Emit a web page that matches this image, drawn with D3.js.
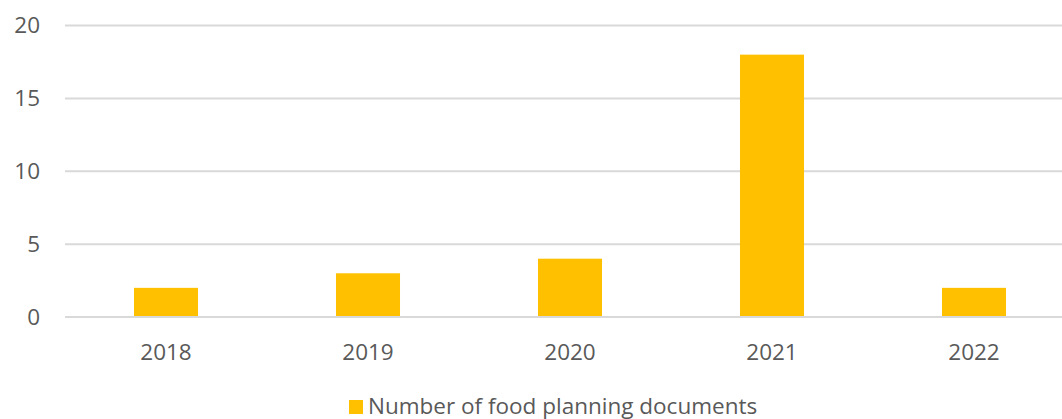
<!DOCTYPE html>
<html>
<head>
<meta charset="utf-8">
<script src="https://cdn.jsdelivr.net/npm/d3@7"></script>
<style>
	body { margin: 0; background: #fff; }
	svg { display: block; font-family: "Open Sans", "Noto Sans", sans-serif; }
	.axis text { fill: #595959; font-size: 22.5px; }
	.grid line { stroke: #d9d9d9; stroke-width: 2; }
	.bar { fill: #ffc000; }
</style>
</head>
<body>
<div id="chart"></div>
<script>
var years = ["2018", "2019", "2020", "2021", "2022"];
var documents = [2, 3, 4, 18, 2];
var yTicks = [0, 5, 10, 15, 20];
var seriesName = "Number of food planning documents";

var width = 1062,
	height = 419;

var svg = d3.select("#chart").append("svg")
	.attr("width", width)
	.attr("height", height);

var xScale = d3.scaleBand().domain(years).range([65, 1075])
	.paddingInner(0.683).paddingOuter(0.3415);
var yScale = d3.scaleLinear().domain([0, 20]).range([317, 25.5]);

// gridlines
svg.append("g")
	.attr("class", "grid")
	.selectAll("line")
	.data(yTicks)
	.enter()
	.append("line")
	.attr("x1", 65)
	.attr("x2", width)
	.attr("y1", function(d) { return yScale(d); })
	.attr("y2", function(d) { return yScale(d); });

// y labels
svg.append("g")
	.attr("class", "axis")
	.selectAll("text")
	.data(yTicks)
	.enter()
	.append("text")
	.attr("x", 40)
	.attr("y", function(d) { return yScale(d); })
	.attr("dy", "0.35em")
	.attr("text-anchor", "end")
	.text(function(d) { return d; });

// bars
svg.selectAll(".bar")
	.data(documents)
	.enter()
	.append("rect")
	.attr("class", "bar")
	.attr("x", function(d, i) { return xScale(years[i]); })
	.attr("width", xScale.bandwidth())
	.attr("y", function(d) { return yScale(d); })
	.attr("height", function(d) { return yScale(0) - yScale(d) - 1; });

// x labels
svg.append("g")
	.attr("class", "axis")
	.selectAll("text")
	.data(years)
	.enter()
	.append("text")
	.attr("x", function(d) { return xScale(d) + xScale.bandwidth() / 2; })
	.attr("y", 360)
	.attr("text-anchor", "middle")
	.text(function(d) { return d; });

// legend
var legend = svg.append("g").attr("class", "axis");
legend.append("rect")
	.attr("class", "bar")
	.attr("x", 349)
	.attr("y", 400)
	.attr("width", 14)
	.attr("height", 14);
legend.append("text")
	.attr("x", 368)
	.attr("y", 414)
	.text(seriesName);
</script>
</body>
</html>
